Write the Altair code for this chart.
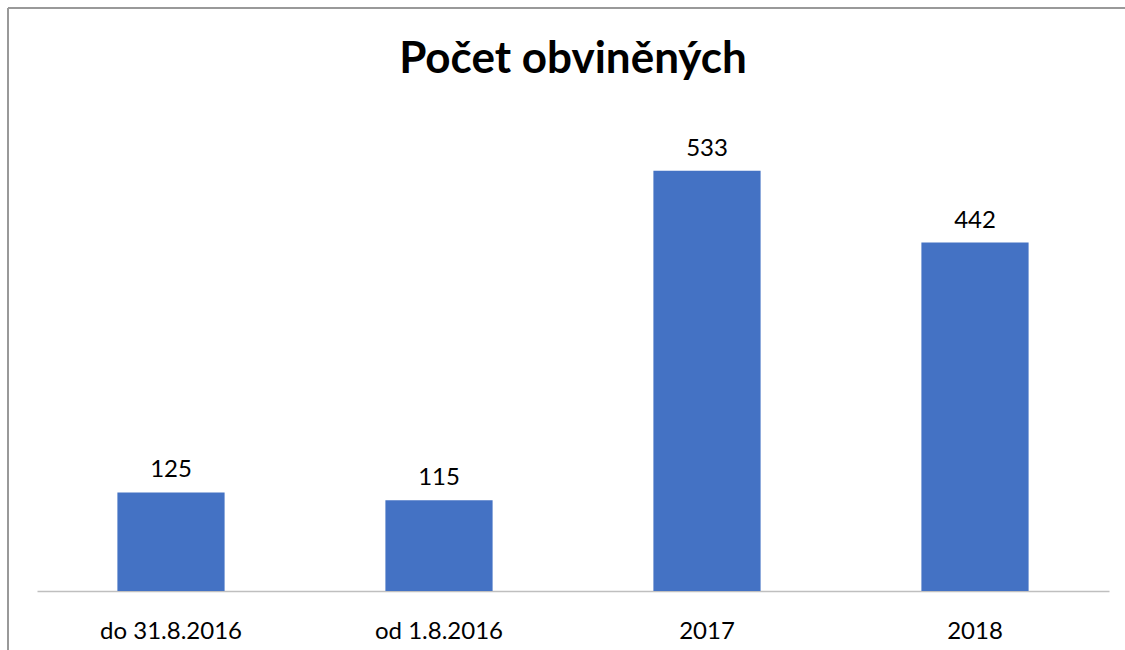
import altair as alt
import pandas as pd

categories = ["do 31.8.2016", "od 1.8.2016", "2017", "2018"]
values = [125, 115, 533, 442]

df = pd.DataFrame({"kategorie": categories, "pocet": values})

FONT = "Lato"

base = alt.Chart(df).encode(
    x=alt.X(
        "kategorie:N",
        sort=categories,
        scale=alt.Scale(paddingInner=0.6, paddingOuter=0.3),
        axis=alt.Axis(
            title=None,
            labelAngle=0,
            ticks=False,
            tickSize=0,
            domainColor="#BFBFBF",
            domainWidth=1.5,
            labelFont=FONT,
            labelFontSize=24,
            labelColor="#000000",
            labelBaseline="alphabetic",
            labelPadding=47,
        ),
    ),
    y=alt.Y(
        "pocet:Q",
        scale=alt.Scale(domain=[0, 600], nice=False),
        axis=None,
    ),
)

bars = base.mark_bar(color="#4472C4")
labels = base.mark_text(
    baseline="alphabetic", dy=-15, font=FONT, fontSize=24, color="#000000"
).encode(text="pocet:Q")

border_left = alt.Chart(df).mark_rule(color="#999999", strokeWidth=1.5).encode(
    x=alt.value(-29), y=alt.value(-110), y2=alt.value(540)
)
border_top = alt.Chart(df).mark_rule(color="#999999", strokeWidth=1.5).encode(
    x=alt.value(-29), x2=alt.value(1100), y=alt.value(-110)
)

chart = (
    alt.layer(border_left, border_top, bars, labels)
    .properties(
        width=1072,
        height=473,
        background="#FFFFFF",
        title=alt.TitleParams(
            "Počet obviněných",
            font=FONT,
            fontSize=44,
            fontWeight="bold",
            color="#000000",
            anchor="middle",
            frame="group",
            baseline="alphabetic",
            offset=-110,
        ),
        autosize=alt.AutoSizeParams(type="none"),
        padding={"left": 37, "top": 118, "right": 16, "bottom": 59},
    )
    .configure_view(strokeWidth=0, stroke="transparent")
)

chart.save("out.html", embed_options={"renderer": "svg", "actions": False})
